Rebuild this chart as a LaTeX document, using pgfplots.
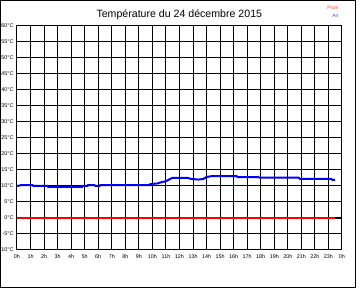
\documentclass[border=0pt]{standalone}
\usepackage{fontspec}
\setmainfont{Liberation Sans}
\usepackage{pgfplots}
\usetikzlibrary{calc}
\pgfplotsset{compat=1.18}
\begin{document}
\begin{tikzpicture}[x=1pt,y=1pt]
\begin{axis}[
  name=ax,
  scale only axis, width=325pt, height=224pt,
  xmin=0, xmax=24, ymin=-10, ymax=60,
  xtick={0,...,24},
  xticklabels={0h,1h,2h,3h,4h,5h,6h,7h,8h,9h,10h,11h,12h,13h,14h,15h,16h,17h,18h,19h,20h,21h,22h,23h,0h},
  ytick={-10,-5,...,60},
  yticklabels={-10°C,-5°C,0°C,5°C,10°C,15°C,20°C,25°C,30°C,35°C,40°C,45°C,50°C,55°C,60°C},
  major tick length=0pt,
  grid=major,
  major grid style={black,line width=1pt},
  axis line style={black,line width=1pt},
  tick label style={font=\fontsize{5.4}{6}\selectfont},
  xticklabel style={yshift=-1pt},
  clip=false,
]
\addplot[black,line width=2pt] coordinates {(0,0) (24,0)};
\addplot[red,line width=2pt] coordinates {(0,0) (23.5,0)};
\addplot[blue,line width=2pt] coordinates {
(0,10.0) (0.35,10.3) (1.15,10.3) (1.2,10.0) (2.25,10.0) (2.3,9.7) (4.8,9.7)
(4.85,10.0) (5.2,10.0) (5.25,10.3) (5.7,10.3) (5.8,10.0) (6.1,10.0) (6.15,10.3)
(9.8,10.3) (9.85,10.6) (10.4,10.8) (10.5,11.0) (11.0,11.5) (11.4,12.4) (11.45,12.5)
(12.6,12.5) (12.9,12.2) (13.4,12.0) (13.75,12.2) (14.0,12.8) (14.4,13.1) (16.2,13.1)
(16.3,12.8) (17.8,12.8) (17.9,12.6) (20.8,12.6) (20.9,12.2) (23.2,12.2) (23.3,11.9) (23.5,11.9)
};
\end{axis}
\path (ax.south west) ++(-17pt,-38pt) coordinate (O);
\draw[line width=1pt,black] ($(O)+(0.5pt,0.5pt)$) rectangle ($(O)+(355.5pt,287.5pt)$);
\node[anchor=base,font=\fontsize{10.6}{12}\selectfont] at ($(O)+(179.3pt,270.7pt)$) {Température du 24 décembre 2015};
\node[anchor=base east,font=\fontsize{5}{6}\selectfont,text=red!75] at ($(O)+(342pt,278pt)$) {Pluie};
\node[anchor=base east,font=\fontsize{5}{6}\selectfont,text=blue!75] at ($(O)+(342pt,270.5pt)$) {Air};
\pgfresetboundingbox
\useasboundingbox (O) rectangle ++(360pt,288pt);
\end{tikzpicture}
\end{document}
